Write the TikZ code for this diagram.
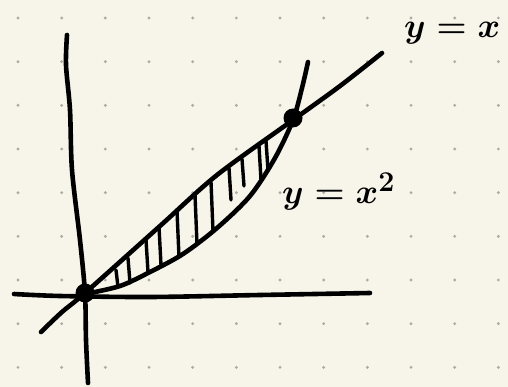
\documentclass[tikz,border=0pt]{standalone}
\definecolor{paper}{RGB}{247,245,234}
\definecolor{griddot}{RGB}{172,172,166}

\begin{document}
\begin{tikzpicture}[x=1pt, y=-1pt,
  pen/.style={line width=4.6pt, line cap=round, line join=round},
  hatch/.style={line width=3.4pt, line cap=round},
  blob/.style={circle, fill=black, inner sep=0pt, minimum size=19pt},
  lbl/.style={font=\Huge\boldmath, inner sep=0pt, anchor=base west}
]
  \fill[paper] (0,0) rectangle (508,387);
  \useasboundingbox (0,0) rectangle (508,387);
  \foreach \i in {0,...,11}
    \foreach \j in {0,...,8}
      \fill[griddot] ({18+43.67*\i},{18+43.67*\j}) circle (1.6pt);

  % axes
  \draw[pen] plot[smooth] coordinates {(67,35) (66,65) (70,110) (72,170) (80,240) (85,293) (86,340) (88,383)};
  \draw[pen] plot[smooth] coordinates {(14,294) (60,296) (150,297) (260,295) (370,293)};

  % y = x and y = x^2
  \draw[pen] plot[smooth] coordinates {(41,332) (62,312) (85,293) (160,226) (217,175) (293,120) (340,86) (382,53)};
  \draw[pen] plot[smooth] coordinates {(85,294) (120,286) (150,272) (183,254) (217,228) (250,196) (275,158) (293,120) (302,88) (308,62)};

  \foreach \xa/\ya/\xb/\yb in {116/270/118/287, 128/258/130/283, 146/240/148/272, 159/227/161/265,
      177/211/179/257, 195/195/197/244, 211/182/213/231, 229/168/231/200, 242/159/244/186,
      259/146/261/180, 266/141/268/170}
    \draw[hatch] (\xa,\ya) -- (\xb,\yb);

  \node[lbl] (lblline) at (404,38) {\scalebox{1.38}{$y=x$}};
  \node[lbl] (lblpar) at (282,204) {\scalebox{1.38}{$y=x^2$}};

  \node[blob] (O) at (85,293) {};
  \node[blob] (P) at (293,118) {};
\end{tikzpicture}
\end{document}
